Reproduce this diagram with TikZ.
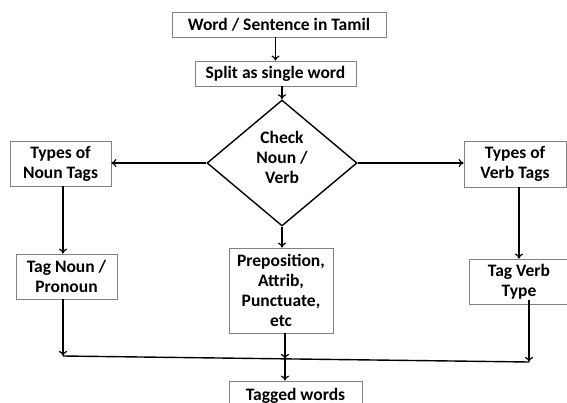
\documentclass[tikz,border=0pt]{standalone}
\usepackage{fontspec}
\setmainfont{Carlito}
\usepackage{tikz}
\usetikzlibrary{arrows.meta,shapes.geometric}

\tikzset{
  steptext/.style={align=center, inner sep=0pt,
    font=\bfseries\fontsize{17.5}{20}\selectfont},
  stepbox/.style={steptext, draw=black!50, line width=0.8pt},
  flow/.style={line width=1.4pt, -{To[length=5pt,width=8pt,line width=1.2pt]}}
}

\begin{document}
\begin{tikzpicture}[x=1pt, y=-1pt]
        \useasboundingbox (0,0) rectangle (567,403);
        \node [stepbox, minimum width=214, minimum height=25] (wrd) at (279,24.5) {Word / Sentence in Tamil};
        \node [stepbox, minimum width=161, minimum height=25] (splt) at (275.5,73.5) {Split as single word};
        \node [draw, diamond, line width=1.4pt, minimum width=150, minimum height=126, inner sep=0pt] (chk) at (282,163) {};
        \node [steptext] (chktxt) at (282,157) {Check\\Noun /\\Verb};
        \node [stepbox, minimum width=101, minimum height=45] (ntyp) at (60.5,163.5) {Types of\\Noun Tags};
        \node [stepbox, minimum width=102, minimum height=46] (vtyp) at (515,164) {Types of\\Verb Tags};
        \node [stepbox, minimum width=101, minimum height=45] (ntag) at (66.5,276.5) {Tag Noun /\\Pronoun};
        \node [stepbox, minimum width=104, minimum height=85] (misc) at (281,290.5) {Preposition,\\Attrib,\\Punctuate,\\etc};
        \node [stepbox, minimum width=100, minimum height=45] (vtag) at (519,281.5) {Tag Verb\\Type};
        \node [stepbox, minimum width=133, minimum height=30] (tgd) at (295.5,396) {Tagged words};
        \coordinate (nl) at (63,0);
        \coordinate (vl) at (529,0);
        \coordinate (jl) at (63,356);
        \coordinate (jr) at (529,362);
        \coordinate (jm) at (285,359);
        % top of the chart
        \draw [flow] (wrd.south -| splt.north) -- (splt.north);
        \draw [flow] (splt.south -| chk.north) -- (chk.north);
        \draw [flow] (chk.west) -- (ntyp.east |- chk.west);
        \draw [flow] (chk.east) -- (vtyp.west |- chk.east);
        % the three columns
        \draw [flow] (ntyp.south -| nl) -- (ntag.north -| nl);
        \draw [flow] (vtyp.south -| vtag.north) -- (vtag.north);
        \draw [flow] (chk.south) -- (misc.north -| chk.south);
        \draw [flow] (ntag.south -| nl) -- (jl);
        \draw [flow] ([yshift=4]vtag.south -| vl) -- (jr);
        \draw [line width=1.4pt] (jl) -- (jr);
        \draw [flow] (misc.south -| jm) -- (jm);
        \draw [flow] (jm) -- (tgd.north -| jm);
    \end{tikzpicture}
\end{document}
